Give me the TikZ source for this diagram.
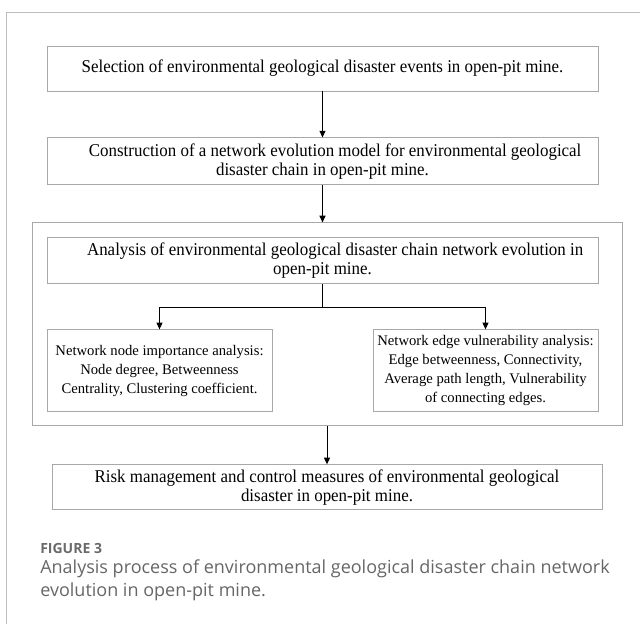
\documentclass[tikz,border=0pt]{standalone}
\usepackage{fontspec}
\setmainfont{Liberation Serif}
\newfontfamily\boxfont[FakeStretch=0.94]{Liberation Serif}
\newfontfamily\capfont{Open Sans}
\usetikzlibrary{positioning,arrows.meta}
\definecolor{boxgray}{HTML}{A8A8A8}
\definecolor{framegray}{HTML}{BDBDBD}
\definecolor{captiongray}{HTML}{666666}
\definecolor{headgray}{HTML}{6A6A6A}

\begin{document}
\begin{tikzpicture}[
        x=1pt, y=1pt,
        node distance=34.5pt,
        >={Triangle[length=5pt, width=4.5pt]},
        box/.style={rectangle, draw=boxgray, line width=0.7pt, align=center, inner sep=0pt, minimum width=413.25pt, minimum height=34.5pt, font=\boxfont\fontsize{13.5}{14.5}\selectfont},
        subbox/.style={rectangle, draw=boxgray, line width=0.7pt, align=center, inner sep=0pt, minimum width=168.75pt, minimum height=61.5pt, font=\fontsize{11}{14.25}\selectfont},
        frame/.style={draw=framegray, line width=0.7pt},
        arrow/.style={->, line width=0.75pt},
        caphead/.style={inner sep=0pt, text=headgray, font=\capfont\bfseries\fontsize{10.5}{12}\selectfont},
        captext/.style={inner sep=0pt, align=left, text=captiongray, font=\capfont\fontsize{13.5}{17.25}\selectfont}
    ]

    \useasboundingbox (0,0) rectangle (480,-468);
    \draw[frame] (4.9,-468) -- (4.9,-9.5) -- (480,-9.5);

    \node[box, minimum height=33.75pt] (sel) at (241.875,-51.375) {Selection of environmental geological disaster events in open-pit mine.};
    \node[box, minimum height=35.25pt, below=of sel] (cons) {\hspace*{19pt}Construction of a network evolution model for environmental geological\\disaster chain in open-pit mine.};
    \node[box, minimum width=442.5pt, minimum height=152.25pt, below=27.75pt of cons, xshift=3.375pt] (outer) {};
    \node[box, below=11.25pt of outer.north, xshift=-3.375pt] (ana) {\hspace*{19pt}Analysis of environmental geological disaster chain network evolution in\\open-pit mine.};
    \node[subbox, below right=33.75pt and 0pt of ana.south west] (imp) {Network node importance analysis:\\Node degree, Betweenness\\Centrality, Clustering coefficient.};
    \node[subbox, below left=33.75pt and 0pt of ana.south east] (vul) {Network edge vulnerability analysis:\\Edge betweenness, Connectivity,\\Average path length, Vulnerability\\of connecting edges.};
    \coordinate[below=17.25pt of ana] (split);
    \node[box, minimum width=412.5pt, minimum height=33.75pt, below=28.5pt of outer] (risk) {Risk management and control measures of environmental geological\\disaster in open-pit mine.};

    \node[caphead, anchor=base west] (fig) at (30,-414.75) {FIGURE 3};
    \node[captext, anchor=base west] (cap) at (30,-447) {Analysis process of environmental geological disaster chain network\\evolution in open-pit mine.};

    \draw[arrow] (sel) -- (cons);
    \draw[arrow] (cons.south) -- (cons.south |- outer.north);
    \draw[line width=0.75pt] (ana) -- (split);
    \draw[arrow] (split) -| (imp);
    \draw[arrow] (split) -| (vul);
    \draw[arrow] (outer) -- (risk);

\end{tikzpicture}
\end{document}
